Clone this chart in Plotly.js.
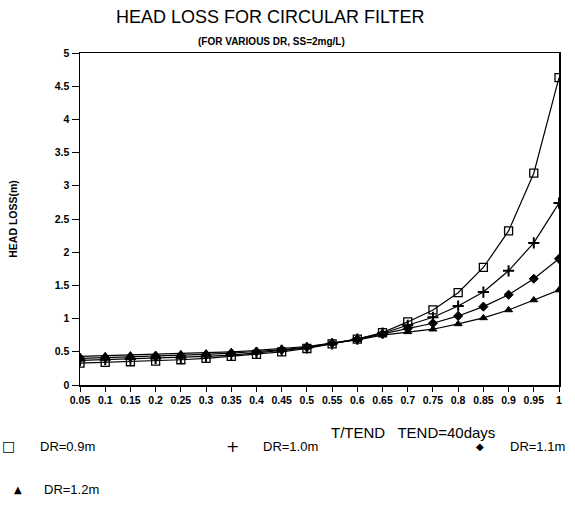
<!DOCTYPE html>
<html>
<head>
<meta charset="utf-8">
<script src="https://cdn.plot.ly/plotly-3.0.1.min.js"></script>
<style>html,body{margin:0;padding:0;background:#fff;}#chart{width:575px;height:526px;}</style>
</head>
<body>
<div id="chart"></div>
<script>
var tRatio = [0.05,0.1,0.15,0.2,0.25,0.3,0.35,0.4,0.45,0.5,0.55,0.6,0.65,0.7,0.75,0.8,0.85,0.9,0.95,1];
var xTickText = ["0.05","0.1","0.15","0.2","0.25","0.3","0.35","0.4","0.45","0.5","0.55","0.6","0.65","0.7","0.75","0.8","0.85","0.9","0.95","1"];
var yTickVals = [0,0.5,1,1.5,2,2.5,3,3.5,4,4.5,5];
var yTickText = ["0","0.5","1","1.5","2","2.5","3","3.5","4","4.5","5"];

var dr09 = [0.33,0.34,0.35,0.36,0.38,0.40,0.43,0.46,0.50,0.55,0.62,0.69,0.79,0.95,1.13,1.39,1.77,2.32,3.19,4.63];
var dr10 = [0.37,0.38,0.39,0.40,0.41,0.43,0.45,0.48,0.52,0.56,0.62,0.69,0.78,0.90,1.02,1.19,1.40,1.72,2.14,2.74];
var dr11 = [0.40,0.41,0.42,0.43,0.44,0.46,0.48,0.50,0.53,0.57,0.63,0.69,0.77,0.85,0.93,1.04,1.18,1.36,1.60,1.90];
var dr12 = [0.43,0.44,0.45,0.46,0.47,0.48,0.50,0.52,0.55,0.58,0.63,0.68,0.75,0.80,0.84,0.92,1.01,1.13,1.28,1.43];

var seriesNames = ["DR=0.9m","DR=1.0m","DR=1.1m","DR=1.2m"];
var seriesData = [dr09, dr10, dr11, dr12];
var symbols = ["square-open","cross-thin-open","diamond","triangle-up"];
var legendGlyphs = ["\u25A1","+","\u25C6","\u25B2"];
var sizes = [8,8,7,7];
var lineW = [1.3,2,1,1];

var traces = [];
seriesData.forEach(function(ys, i){
  traces.push({x: tRatio, y: ys, mode: "lines+markers", type: "scatter", name: seriesNames[i],
    line: {color: "#000", width: 1.2},
    marker: {symbol: symbols[i], size: sizes[i], color: "#000", line: {color: "#000", width: lineW[i]}},
    showlegend: false});
});

var fam = "Liberation Sans, Arial, sans-serif";
var tickFont = {family: fam, size: 10.5, color: "#000", weight: "bold"};
var legFont = {family: fam, size: 13, color: "#000"};

// legend drawn as annotations (glyph + label), laid out in paper coords
var legendSlots = [
  {gx: -0.150, tx: -0.087, y: -0.184},
  {gx: 0.319, tx: 0.378, y: -0.184},
  {gx: 0.835, tx: 0.894, y: -0.184},
  {gx: -0.129, tx: -0.079, y: -0.316}
];
var glyphSizes = [14, 16, 10, 10];
var annotations = [
  {text: "(FOR VARIOUS DR, SS=2mg/L)", xref: "paper", yref: "paper", x: 0.40, y: 1.036, xanchor: "center", yanchor: "middle",
    showarrow: false, font: {family: fam, size: 10, color: "#000", weight: "bold"}},
  {text: "T/TEND   TEND=40days", xref: "paper", yref: "paper", x: 0.695, y: -0.142, xanchor: "center", yanchor: "middle",
    showarrow: false, font: {family: fam, size: 15, color: "#000"}}
];
seriesNames.forEach(function(nm, i){
  var s = legendSlots[i];
  annotations.push({text: legendGlyphs[i], xref: "paper", yref: "paper", x: s.gx, y: s.y, xanchor: "center", yanchor: "middle",
    showarrow: false, font: {family: "DejaVu Sans, sans-serif", size: glyphSizes[i], color: "#000"}});
  annotations.push({text: nm, xref: "paper", yref: "paper", x: s.tx, y: s.y, xanchor: "left", yanchor: "middle",
    showarrow: false, font: legFont});
});

var layout = {
  width: 575, height: 526,
  margin: {l: 80, r: 16, t: 53, b: 141},
  paper_bgcolor: "#fff", plot_bgcolor: "#fff",
  title: {text: "HEAD LOSS FOR CIRCULAR FILTER", x: 0.47, xanchor: "center", y: 0.968, yanchor: "middle",
    font: {family: fam, size: 18, color: "#000"}},
  xaxis: {range: [0.05, 1], tickvals: tRatio, ticktext: xTickText, showgrid: false, zeroline: false,
    showline: true, linecolor: "#000", linewidth: 1.5, mirror: true, ticks: "outside", ticklen: 5,
    tickcolor: "#000", tickfont: tickFont},
  yaxis: {range: [0, 5], tickvals: yTickVals, ticktext: yTickText, showgrid: false, zeroline: false,
    showline: true, linecolor: "#000", linewidth: 1.5, mirror: true, ticks: "outside", ticklen: 7,
    tickcolor: "#000", tickfont: tickFont,
    title: {text: "HEAD LOSS(m)", standoff: 35, font: {family: fam, size: 10.5, color: "#000", weight: "bold"}}},
  annotations: annotations,
  showlegend: false
};

Plotly.newPlot("chart", traces, layout, {displayModeBar: false, staticPlot: true});
</script>
</body>
</html>
